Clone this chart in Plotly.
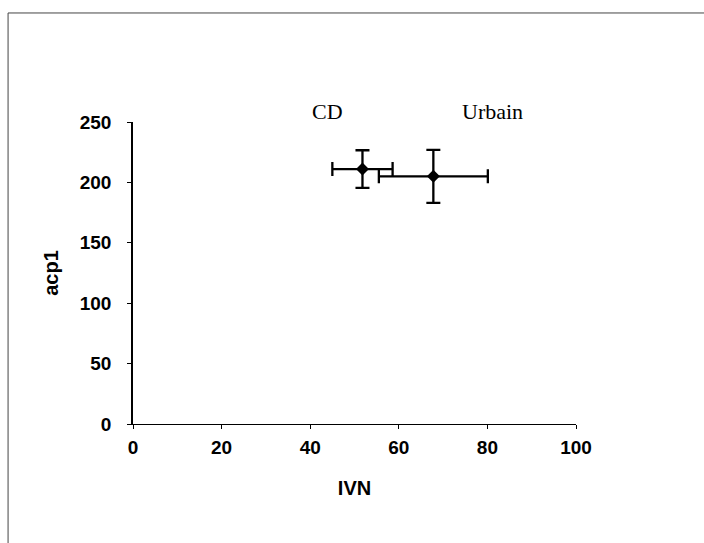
import plotly.graph_objects as go

groups = ["CD", "Urbain"]
ivn = [51.8, 67.8]
ivn_err = [6.8, 12.3]
acp1 = [211, 205]
acp1_err = [15.6, 22]

x_ticks = [0, 20, 40, 60, 80, 100]
y_ticks = [0, 50, 100, 150, 200, 250]

fig = go.Figure()
fig.add_trace(go.Scatter(
    x=ivn, y=acp1, mode="markers",
    marker=dict(symbol="diamond", size=10, color="black"),
    error_x=dict(type="data", array=ivn_err, color="black", thickness=2.3, width=7),
    error_y=dict(type="data", array=acp1_err, color="black", thickness=2.3, width=7),
    showlegend=False, cliponaxis=False,
))

label_x = [0.438, 0.812]
for g, lx in zip(groups, label_x):
    fig.add_annotation(x=lx, y=1.035, xref="paper", yref="paper", text=g, showarrow=False,
                       xanchor="center", yanchor="middle",
                       font=dict(family="Liberation Serif, Times New Roman, serif", size=22, color="black"))

fig.add_shape(type="rect", xref="paper", yref="paper",
              x0=-0.282, x1=1.35, y0=-0.45, y1=1.361,
              line=dict(color="#444", width=1))

tick_font = dict(family="Liberation Sans, Arial, sans-serif", size=19, color="black", weight="bold")
title_font = dict(family="Liberation Sans, Arial, sans-serif", size=20, color="black", weight="bold")
fig.update_xaxes(range=[0, 100], tickvals=x_ticks, showline=True, linecolor="black", linewidth=1,
                 ticks="outside", ticklen=4, tickcolor="black", showgrid=False, zeroline=False,
                 tickfont=tick_font, ticklabelstandoff=2,
                 title=dict(text="IVN", font=title_font, standoff=24))
fig.update_yaxes(range=[0, 250], tickvals=y_ticks, showline=True, linecolor="black", linewidth=1.5,
                 ticks="outside", ticklen=4, tickcolor="black", showgrid=False, zeroline=False,
                 tickfont=tick_font, ticklabelstandoff=12,
                 title=dict(text="acp1", font=title_font, standoff=16))
fig.update_layout(
    width=704, height=543,
    margin=dict(l=133, r=128, t=122, b=119),
    plot_bgcolor="white", paper_bgcolor="white",
    font=dict(family="Liberation Sans, Arial, sans-serif", color="black"),
)
fig.write_html("out.html")
